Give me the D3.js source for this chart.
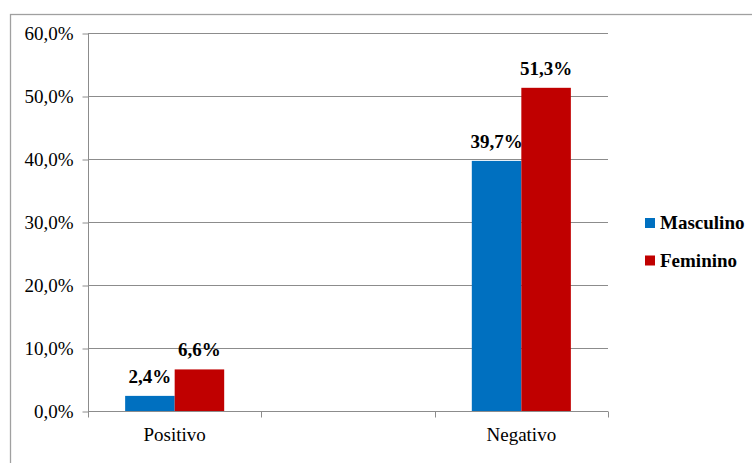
<!DOCTYPE html>
<html>
<head>
<meta charset="utf-8">
<script src="https://cdn.jsdelivr.net/npm/d3@7"></script>
<style>
  html, body { margin: 0; padding: 0; background: #fff; }
  svg { display: block; }
</style>
</head>
<body>
<svg id="chart" width="752" height="463"></svg>
<script>
// data
const categories = ["Positivo", "", "Negativo"];   // middle slot is empty in the original
const seriesNames = ["Masculino", "Feminino"];
const masculino = [0.024, null, 0.397];
const feminino = [0.066, null, 0.513];
const yTicks = [0, 0.1, 0.2, 0.3, 0.4, 0.5, 0.6];
const colors = ["#0070C0", "#C00000"];

const serif = "'Times New Roman', 'Liberation Serif', 'DejaVu Serif', serif";

const svg = d3.select("#chart");
const W = +svg.attr("width"), H = +svg.attr("height");

// outer chart border (runs off the right and bottom edge)
svg.append("rect")
    .attr("x", 10.5).attr("y", 14.5)
    .attr("width", W).attr("height", H)
    .attr("fill", "none").attr("stroke", "#a0a0a0").attr("stroke-width", 1.3);

const plot = { left: 88, right: 608, top: 33, bottom: 411 };

const x = d3.scaleBand()
    .domain(d3.range(categories.length))
    .range([plot.left, plot.right])
    .padding(0);

const y = d3.scaleLinear()
    .domain([0, 0.6])
    .range([plot.bottom, plot.top]);

// gap width ~75% like Excel
const groupW = x.bandwidth() / 1.75;
const x1 = d3.scaleBand()
    .domain(seriesNames)
    .range([0, groupW])
    .padding(0);

const fmt = v => d3.format(".1f")(v * 100).replace(".", ",") + "%";

// gridlines
svg.append("g")
    .selectAll("line")
    .data(yTicks.filter(d => d > 0))
    .join("line")
    .attr("x1", plot.left).attr("x2", plot.right)
    .attr("y1", d => Math.round(y(d)) + 0.5).attr("y2", d => Math.round(y(d)) + 0.5)
    .attr("stroke", "#8c8c8c").attr("stroke-width", 1);

// y axis
const yAxis = svg.append("g")
    .attr("transform", `translate(${plot.left + 0.5},0.5)`)
    .call(d3.axisLeft(y).tickValues(yTicks).tickFormat(fmt).tickSize(6).tickPadding(9));
yAxis.attr("font-family", null).attr("font-size", null);
yAxis.select(".domain").attr("stroke", "#8c8c8c").attr("d", `M0,${plot.top}V${plot.bottom}`);
yAxis.selectAll(".tick line").attr("stroke", "#8c8c8c");
yAxis.selectAll(".tick text")
    .style("font-family", serif)
    .style("font-size", "19px")
    .attr("fill", "#000");

// bars
const rows = categories.map((c, i) => ({ i, values: [masculino[i], feminino[i]] }));

const groups = svg.append("g")
    .selectAll("g")
    .data(rows)
    .join("g")
    .attr("transform", d => `translate(${x(d.i) + (x.bandwidth() - groupW) / 2},0)`);

groups.selectAll("rect")
    .data(d => d.values.map((v, k) => ({ v, k })).filter(e => e.v != null))
    .join("rect")
    .attr("x", e => x1(seriesNames[e.k]))
    .attr("width", x1.bandwidth())
    .attr("y", e => y(e.v))
    .attr("height", e => y(0) - y(e.v))
    .attr("fill", e => colors[e.k]);

groups.selectAll("text")
    .data(d => d.values.map((v, k) => ({ v, k })).filter(e => e.v != null))
    .join("text")
    .attr("x", e => x1(seriesNames[e.k]) + x1.bandwidth() / 2)
    .attr("y", e => y(e.v) - 13)
    .attr("text-anchor", "middle")
    .style("font-family", serif)
    .style("font-size", "19px")
    .style("font-weight", "bold")
    .text(e => fmt(e.v));

// x axis with ticks on band boundaries
const xAxis = svg.append("g")
    .attr("transform", `translate(0,${plot.bottom + 0.5})`);
xAxis.append("line")
    .attr("x1", plot.left).attr("x2", plot.right)
    .attr("stroke", "#8c8c8c");
xAxis.selectAll("line.tick")
    .data(d3.range(categories.length + 1))
    .join("line")
    .attr("class", "tick")
    .attr("x1", i => Math.round(plot.left + i * x.bandwidth()) + 0.5)
    .attr("x2", i => Math.round(plot.left + i * x.bandwidth()) + 0.5)
    .attr("y1", 0).attr("y2", 6)
    .attr("stroke", "#8c8c8c");
xAxis.selectAll("text")
    .data(categories.map((c, i) => ({ c, i })).filter(d => d.c))
    .join("text")
    .attr("x", d => x(d.i) + x.bandwidth() / 2)
    .attr("y", 29)
    .attr("text-anchor", "middle")
    .style("font-family", serif)
    .style("font-size", "19px")
    .text(d => d.c);

// legend
const legend = svg.append("g")
    .selectAll("g")
    .data(seriesNames)
    .join("g")
    .attr("transform", (d, i) => `translate(645,${218 + i * 37.5})`);
legend.append("rect")
    .attr("width", 10).attr("height", 10)
    .attr("fill", (d, i) => colors[i]);
legend.append("text")
    .attr("x", 15).attr("y", 11)
    .style("font-family", serif)
    .style("font-size", "19px")
    .style("font-weight", "bold")
    .text(d => d);
</script>
</body>
</html>
